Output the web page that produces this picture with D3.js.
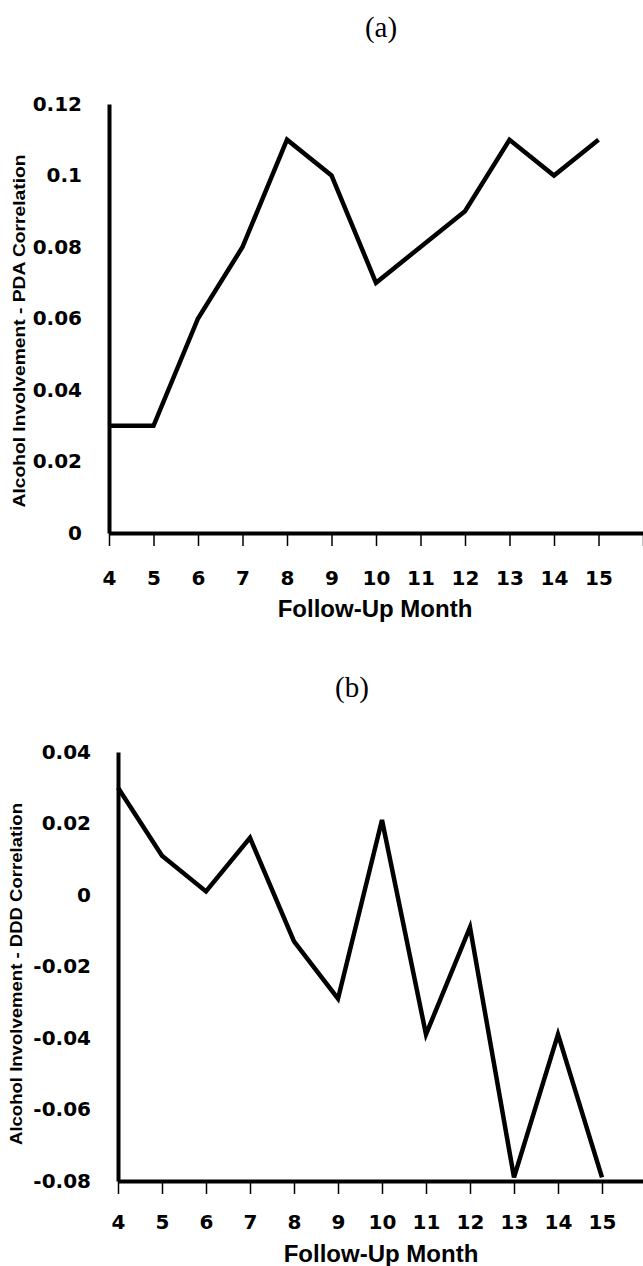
<!DOCTYPE html>
<html lang="en">
<head>
<meta charset="utf-8">
<title>Alcohol involvement correlations by follow-up month</title>
<script src="https://d3js.org/d3.v7.min.js"></script>
<style>
    body { margin: 0; background: #fff; }
    svg { display: block; }
    .tick text { font-family: "DejaVu Sans", sans-serif; font-weight: bold; }
    .series { fill: none; stroke: #000; stroke-width: 4.5; stroke-linejoin: miter; }
</style>
</head>
<body>
<svg id="chart" width="643" height="1266"></svg>
<script>
// follow-up months and the two correlation series
const months = [4, 5, 6, 7, 8, 9, 10, 11, 12, 13, 14, 15];
const pdaCorr = [0.03, 0.03, 0.06, 0.08, 0.11, 0.10, 0.07, 0.08, 0.09, 0.11, 0.10, 0.11];
const dddCorr = [0.03, 0.011, 0.001, 0.016, -0.013, -0.029, 0.021, -0.039, -0.009, -0.079, -0.039, -0.079];

// axis ticks
const monthTicks = [4, 5, 6, 7, 8, 9, 10, 11, 12, 13, 14, 15, 16];
const pdaTicks = [0, 0.02, 0.04, 0.06, 0.08, 0.1, 0.12];
const dddTicks = [-0.08, -0.06, -0.04, -0.02, 0, 0.02, 0.04];

const panels = [
    {
        tag: '(a)', tagX: 381, tagY: 37,
        values: pdaCorr, ticks: pdaTicks, yDomain: [0, 0.12],
        xRange: [109, 643], yRange: [533, 104],
        labelPad: 27, xPad: 25,
        yTitle: 'Alcohol Involvement - PDA Correlation', yTitleX: 25, yTitleY: 331, yTitleLen: 353,
        xTitleX: 375, xTitleY: 617
    },
    {
        tag: '(b)', tagX: 352, tagY: 697,
        values: dddCorr, ticks: dddTicks, yDomain: [-0.08, 0.04],
        xRange: [118, 646], yRange: [1181, 752],
        labelPad: 27, xPad: 21,
        yTitle: 'Alcohol Involvement - DDD Correlation', yTitleX: 22, yTitleY: 974, yTitleLen: 342,
        xTitleX: 381, xTitleY: 1262
    }
];

const svg = d3.select('#chart');
const fmt = d => String(+d.toFixed(2));

panels.forEach(p => {
    const x = d3.scaleLinear().domain([4, 16]).range(p.xRange);
    const y = d3.scaleLinear().domain(p.yDomain).range(p.yRange);

    // panel tag
    svg.append('text')
        .attr('x', p.tagX).attr('y', p.tagY)
        .attr('text-anchor', 'middle')
        .style('font-family', '"Liberation Serif", "Times New Roman", serif')
        .style('font-size', '29px')
        .text(p.tag);

    // x axis
    const gx = svg.append('g')
        .attr('transform', `translate(0, ${p.yRange[0]})`)
        .call(d3.axisBottom(x)
            .tickValues(monthTicks)
            .tickFormat(d => d <= 15 ? d : '')
            .tickSize(13)
            .tickSizeOuter(0)
            .tickPadding(p.xPad));
    gx.select('.domain').attr('stroke-width', 4);
    gx.selectAll('.tick line').attr('stroke-width', 1.5);
    gx.selectAll('.tick text').style('font-size', '20px');

    // y axis
    const gy = svg.append('g')
        .attr('transform', `translate(${p.xRange[0]}, 0)`)
        .call(d3.axisLeft(y)
            .tickValues(p.ticks)
            .tickFormat(fmt)
            .tickSize(0)
            .tickPadding(p.labelPad));
    gy.select('.domain').attr('stroke-width', 4);
    gy.selectAll('.tick text').style('font-size', '20px');

    // series line
    const line = d3.line()
        .x((d, i) => x(months[i]))
        .y(d => y(d));
    svg.append('path')
        .datum(p.values)
        .attr('class', 'series')
        .attr('d', line);

    // axis titles
    svg.append('text')
        .attr('x', p.xTitleX).attr('y', p.xTitleY)
        .attr('text-anchor', 'middle')
        .style('font-family', '"Liberation Sans", Arial, sans-serif')
        .style('font-weight', 'bold')
        .style('font-size', '24px')
        .text('Follow-Up Month');

    svg.append('text')
        .attr('transform', `translate(${p.yTitleX}, ${p.yTitleY}) rotate(-90)`)
        .attr('text-anchor', 'middle')
        .attr('textLength', p.yTitleLen)
        .attr('lengthAdjust', 'spacingAndGlyphs')
        .style('font-family', '"Liberation Sans", Arial, sans-serif')
        .style('font-weight', 'bold')
        .style('font-size', '17px')
        .text(p.yTitle);
});
</script>
</body>
</html>
